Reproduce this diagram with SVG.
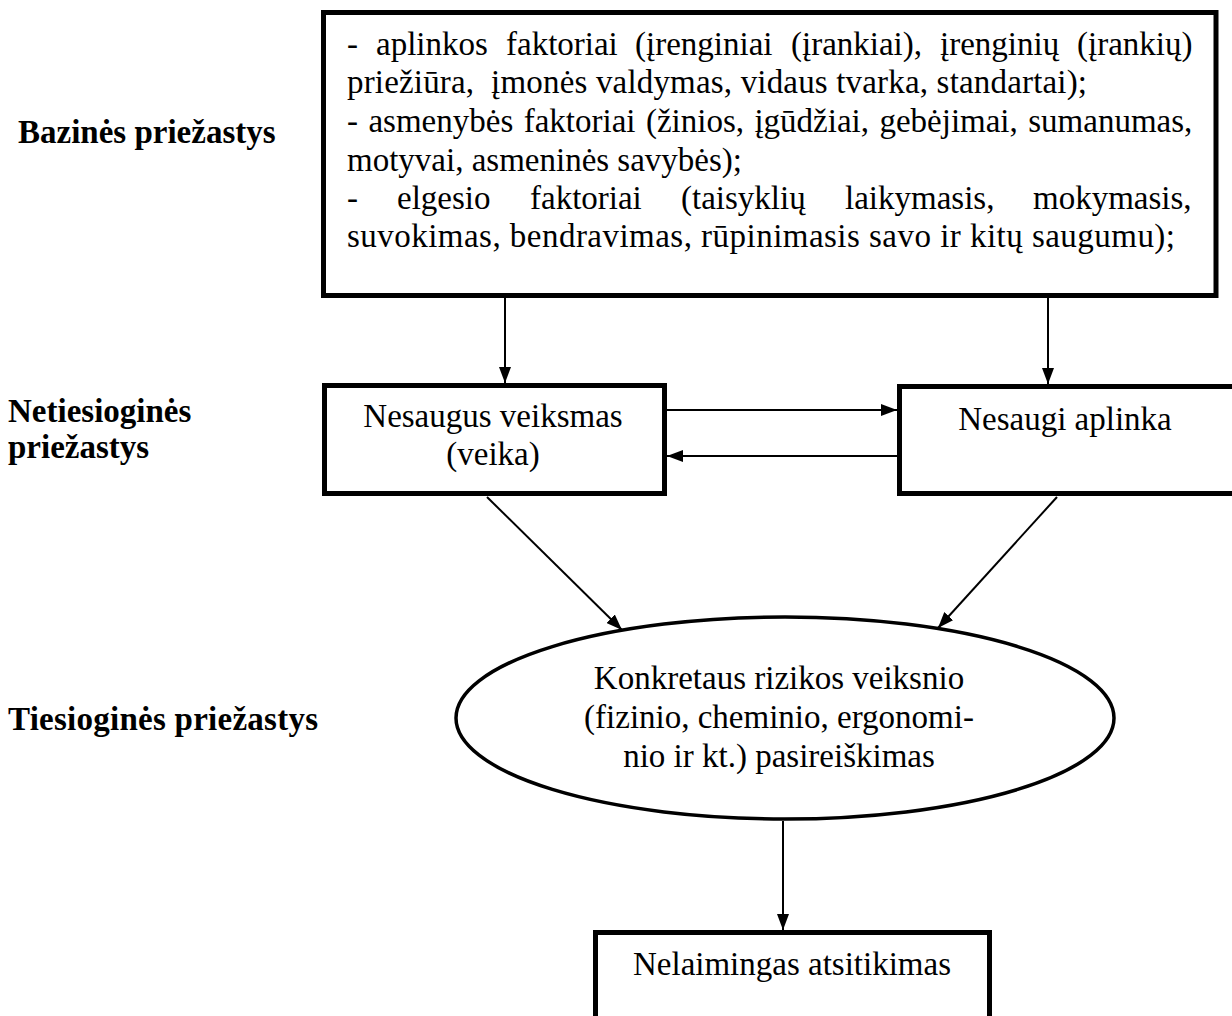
<svg xmlns="http://www.w3.org/2000/svg" width="1232" height="1016" viewBox="0 0 1232 1016">
<defs>
<marker id="ah" markerUnits="userSpaceOnUse" markerWidth="16" markerHeight="12" refX="16" refY="6" orient="auto">
<path d="M0,0 L16,6 L0,12 z" fill="#000"/>
</marker>
<style>
.box{fill:#fff;stroke:#000;stroke-width:5}
.ell{fill:#fff;stroke:#000;stroke-width:3.5}
.t{font-family:"Liberation Serif","Times New Roman",serif;font-size:33px;fill:#000}
.c{text-anchor:middle}
.lbl{font-family:"Liberation Serif","Times New Roman",serif;font-size:33px;font-weight:bold;fill:#000}
.con{stroke:#000;stroke-width:2;fill:none;marker-end:url(#ah)}
</style>
</defs>
<rect width="1232" height="1016" fill="#fff"/>

<g id="labels">
<text class="lbl" x="18" y="143">Bazinės priežastys</text>
<text class="lbl" x="8" y="422">Netiesioginės</text>
<text class="lbl" x="8" y="458">priežastys</text>
<text class="lbl" x="8" y="730" textLength="310" lengthAdjust="spacing">Tiesioginės priežastys</text>
</g>

<g id="connectors">
<line class="con" x1="505" y1="298" x2="505" y2="383"/>
<line class="con" x1="1048" y1="298" x2="1048" y2="384"/>
<line class="con" x1="667" y1="410" x2="897" y2="410"/>
<line class="con" x1="897" y1="456" x2="667" y2="456"/>
<line class="con" x1="487" y1="497" x2="622" y2="630"/>
<line class="con" x1="1057" y1="497" x2="938" y2="628"/>
<line class="con" x1="783" y1="821" x2="783" y2="930"/>
</g>

<g id="node-bazines">
<rect class="box" x="323.5" y="12.5" width="892.5" height="283"/>
<text class="t" y="55"><tspan x="347">-</tspan><tspan x="376">aplinkos</tspan><tspan x="506">faktoriai</tspan><tspan x="635">(įrenginiai</tspan><tspan x="791">(įrankiai),</tspan><tspan x="940">įrenginių</tspan><tspan x="1077">(įrankių)</tspan></text>
<text class="t" x="347" y="93" xml:space="preserve" textLength="740" lengthAdjust="spacing">priežiūra,  įmonės valdymas, vidaus tvarka, standartai);</text>
<text class="t" x="347" y="132" word-spacing="2.2">- asmenybės faktoriai (žinios, įgūdžiai, gebėjimai, sumanumas,</text>
<text class="t" x="347" y="171">motyvai, asmeninės savybės);</text>
<text class="t" y="209"><tspan x="347">-</tspan><tspan x="397">elgesio</tspan><tspan x="530">faktoriai</tspan><tspan x="681">(taisyklių</tspan><tspan x="845">laikymasis,</tspan><tspan x="1033">mokymasis,</tspan></text>
<text class="t" x="347" y="247" textLength="828" lengthAdjust="spacing">suvokimas, bendravimas, rūpinimasis savo ir kitų saugumu);</text>
</g>

<g id="node-veiksmas">
<rect class="box" x="324.5" y="385.5" width="340" height="108"/>
<text class="t c" x="493" y="427">Nesaugus veiksmas</text>
<text class="t c" x="493" y="465">(veika)</text>
</g>

<g id="node-aplinka">
<rect class="box" x="899.5" y="386.5" width="345" height="107"/>
<text class="t c" x="1065" y="430">Nesaugi aplinka</text>
</g>

<g id="node-rizika">
<ellipse class="ell" cx="785" cy="718" rx="329" ry="101"/>
<text class="t c" x="779" y="689">Konkretaus rizikos veiksnio</text>
<text class="t c" x="779" y="728">(fizinio, cheminio, ergonomi-</text>
<text class="t c" x="779" y="767">nio ir kt.) pasireiškimas</text>
</g>

<g id="node-nelaimingas">
<rect class="box" x="595.5" y="932.5" width="394" height="100"/>
<text class="t c" x="792" y="975">Nelaimingas atsitikimas</text>
</g>
</svg>
